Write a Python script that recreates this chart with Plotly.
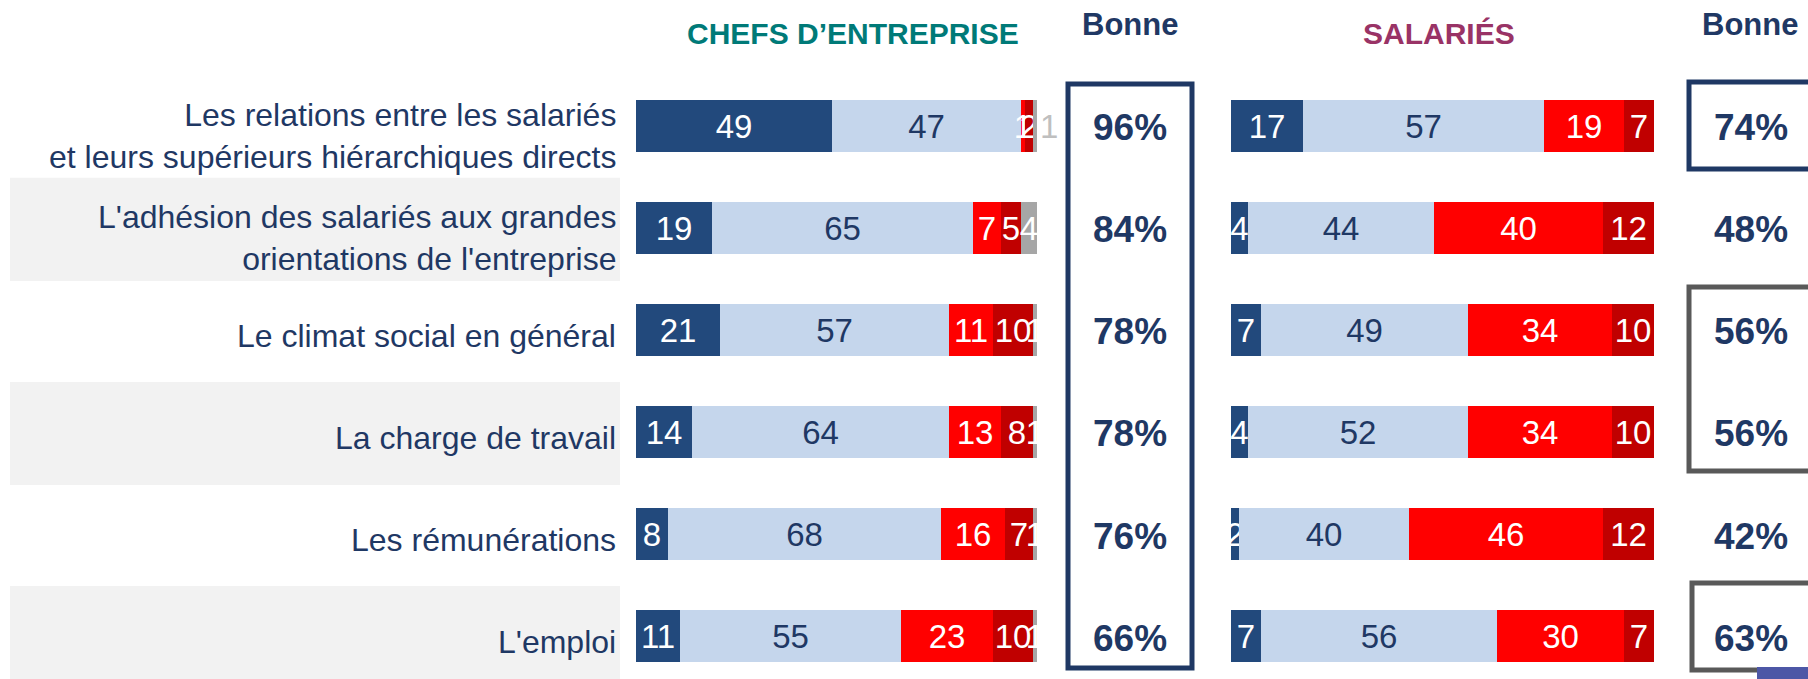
import plotly.graph_objects as go

# ---------------- data ----------------
categories = [
    "Les relations entre les salariés<br>et leurs supérieurs hiérarchiques directs",
    "L'adhésion des salariés aux grandes<br>orientations de l'entreprise",
    "Le climat social en général",
    "La charge de travail",
    "Les rémunérations",
    "L'emploi",
]
chefs_tres_bonne = [49, 19, 21, 14, 8, 11]
chefs_assez_bonne = [47, 65, 57, 64, 68, 55]
chefs_assez_mauvaise = [1, 7, 11, 13, 16, 23]
chefs_tres_mauvaise = [2, 5, 10, 8, 7, 10]
chefs_nsp = [1, 4, 1, 1, 1, 1]
chefs_bonne = [96, 84, 78, 78, 76, 66]

sal_tres_bonne = [17, 4, 7, 4, 2, 7]
sal_assez_bonne = [57, 44, 49, 52, 40, 56]
sal_assez_mauvaise = [19, 40, 34, 34, 46, 30]
sal_tres_mauvaise = [7, 12, 10, 10, 12, 7]
sal_bonne = [74, 48, 56, 56, 42, 63]

title_chefs = "CHEFS D’ENTREPRISE"
title_sal = "SALARIÉS"
col_header = "Bonne"

# ---------------- style ----------------
W, H = 1808, 679
FONT = "Liberation Sans, Arial, sans-serif"
NAVY = "#1f3864"
C_TB = "#22497c"
C_AB = "#c5d6ec"
C_AM = "#ff0000"
C_TM = "#c00000"
C_NSP = "#a6a6a6"

ROW0, ROWSTEP = 125.8, 102.05
yr = [(H - ROW0) / ROWSTEP, (0 - ROW0) / ROWSTEP]  # reversed
rows = list(range(len(categories)))


def px(x):
    return x / W


def py(y):
    return 1 - y / H


fig = go.Figure()


def add_seg(vals, color, txtcolor, xa, ya, textpos="inside", clip=True):
    fig.add_trace(go.Bar(
        y=rows, x=vals, orientation="h", marker=dict(color=color, line=dict(width=0)),
        text=[str(v) for v in vals], textposition=textpos,
        insidetextanchor="middle",
        textfont=dict(family=FONT, size=33, color=txtcolor),
        width=0.51, xaxis=xa, yaxis=ya, cliponaxis=clip, showlegend=False,
        hoverinfo="skip",
    ))


n = len(rows)
add_seg(chefs_tres_bonne, C_TB, "white", "x", "y")
add_seg(chefs_assez_bonne, C_AB, NAVY, "x", "y")
add_seg(chefs_assez_mauvaise, C_AM, "white", "x", "y")
add_seg(chefs_tres_mauvaise, C_TM, "white", "x", "y")
add_seg(chefs_nsp, C_NSP, ["#bfbfbf"] + ["white"] * (n - 1), "x", "y",
        textpos=["outside"] + ["inside"] * (n - 1), clip=False)

add_seg(sal_tres_bonne, C_TB, "white", "x2", "y2")
add_seg(sal_assez_bonne, C_AB, NAVY, "x2", "y2")
add_seg(sal_assez_mauvaise, C_AM, "white", "x2", "y2")
add_seg(sal_tres_mauvaise, C_TM, "white", "x2", "y2")

shapes = []
# grey bands behind alternate labels
for i in rows:
    if i % 2 == 1:
        shapes.append(dict(type="rect", xref="paper", yref="y", x0=px(10), x1=px(620),
                           y0=i - 0.49, y1=i + 0.52, fillcolor="#f2f2f2", line=dict(width=0),
                           layer="below"))
# left "Bonne" box
shapes.append(dict(type="rect", xref="paper", yref="paper", x0=px(1068), x1=px(1192),
                   y0=py(668), y1=py(84), line=dict(color=NAVY, width=5), fillcolor="rgba(0,0,0,0)"))
# right boxes
shapes.append(dict(type="rect", xref="paper", yref="paper", x0=px(1689), x1=px(1840),
                   y0=py(169), y1=py(82), line=dict(color=NAVY, width=5), fillcolor="rgba(0,0,0,0)"))
shapes.append(dict(type="rect", xref="paper", yref="paper", x0=px(1689), x1=px(1840),
                   y0=py(471), y1=py(287), line=dict(color="#595959", width=5), fillcolor="rgba(0,0,0,0)"))
shapes.append(dict(type="rect", xref="paper", yref="paper", x0=px(1692), x1=px(1840),
                   y0=py(670), y1=py(583), line=dict(color="#595959", width=5), fillcolor="rgba(0,0,0,0)"))
# corner logo fragment
shapes.append(dict(type="rect", xref="paper", yref="paper", x0=px(1757), x1=px(1808),
                   y0=py(679), y1=py(667), line=dict(width=0), fillcolor="#4d57a6"))

ann = []
for i, lab in enumerate(categories):
    off = 0.10 if "<br>" in lab else 0.06
    ann.append(dict(x=px(618), xref="paper", y=i + off, yref="y", text=lab, showarrow=False,
                    xanchor="right", yanchor="middle", align="right",
                    font=dict(family=FONT, size=32, color=NAVY)))
    ann.append(dict(x=px(1130), xref="paper", y=i + 0.02, yref="y", text=f"{chefs_bonne[i]}%",
                    showarrow=False, xanchor="center", yanchor="middle",
                    font=dict(family=FONT, size=37, color=NAVY, weight="bold")))
    ann.append(dict(x=px(1751), xref="paper", y=i + 0.02, yref="y", text=f"{sal_bonne[i]}%",
                    showarrow=False, xanchor="center", yanchor="middle",
                    font=dict(family=FONT, size=37, color=NAVY, weight="bold")))

ann.append(dict(x=px(853), xref="paper", y=py(33), yref="paper", text=title_chefs, showarrow=False,
                xanchor="center", yanchor="middle",
                font=dict(family=FONT, size=30, color="#007a78", weight="bold")))
ann.append(dict(x=px(1439), xref="paper", y=py(33), yref="paper", text=title_sal, showarrow=False,
                xanchor="center", yanchor="middle",
                font=dict(family=FONT, size=30, color="#993366", weight="bold")))
for xc in (1130, 1750):
    ann.append(dict(x=px(xc), xref="paper", y=py(25), yref="paper", text=col_header, showarrow=False,
                    xanchor="center", yanchor="middle",
                    font=dict(family=FONT, size=31, color=NAVY, weight="bold")))

axis_common = dict(visible=False, showgrid=False, zeroline=False, fixedrange=True)
fig.update_layout(
    width=W, height=H, margin=dict(l=0, r=0, t=0, b=0),
    paper_bgcolor="white", plot_bgcolor="rgba(0,0,0,0)",
    barmode="stack", bargap=0,
    uniformtext=dict(minsize=33, mode="show"),
    xaxis=dict(domain=[px(636), px(1037)], range=[0, 100], anchor="y", **axis_common),
    yaxis=dict(domain=[0, 1], range=yr, anchor="x", **axis_common),
    xaxis2=dict(domain=[px(1231), px(1654)], range=[0, 100], anchor="y2", **axis_common),
    yaxis2=dict(domain=[0, 1], range=yr, anchor="x2", **axis_common),
    shapes=shapes, annotations=ann,
)

fig.write_html(
    "out.html",
    config={"displayModeBar": False},
    post_script="document.body.style.margin='0px';document.body.style.overflow='hidden';",
)
